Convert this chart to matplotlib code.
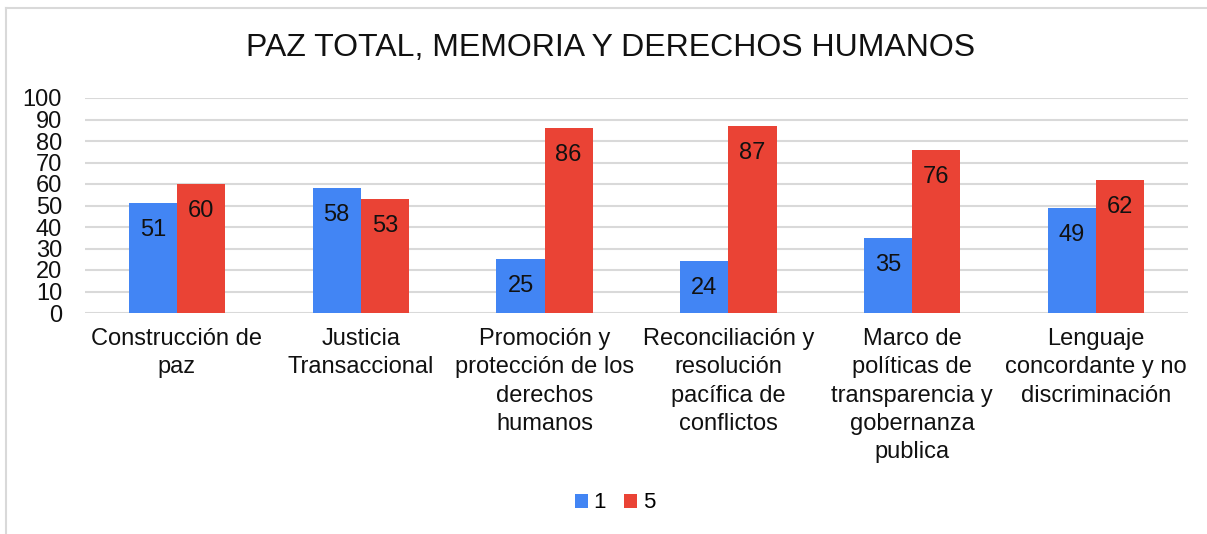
import matplotlib
matplotlib.use("Agg")
import matplotlib.pyplot as plt
import numpy as np

categories = [
    "Construcción de\npaz",
    "Justicia\nTransaccional",
    "Promoción y\nprotección de los\nderechos\nhumanos",
    "Reconciliación y\nresolución\npacífica de\nconflictos",
    "Marco de\npolíticas de\ntransparencia y\ngobernanza\npublica",
    "Lenguaje\nconcordante y no\ndiscriminación",
]
series_names = ["1", "5"]
values_1 = [51, 58, 25, 24, 35, 49]
values_5 = [60, 53, 86, 87, 76, 62]
y_ticks = list(range(0, 101, 10))

plt.rcParams['font.family'] = ['Liberation Sans', 'DejaVu Sans']

W, H = 1207, 534
fig = plt.figure(figsize=(W / 100, H / 100), dpi=100)
fig.patch.set_facecolor("white")

# outer chart border (cropped)
fig.add_artist(plt.Line2D([6 / W, 6 / W], [0, 1 - 8 / H], color="#d9d9d9", lw=1.5, transform=fig.transFigure))
fig.add_artist(plt.Line2D([6 / W, 1], [1 - 8 / H, 1 - 8 / H], color="#d9d9d9", lw=1.5, transform=fig.transFigure))

ax = fig.add_axes([85 / W, 1 - 313 / H, (1188 - 85) / W, (313 - 98) / H])

x = np.arange(len(categories))
bw = 0.262
blue = "#4285F4"
red = "#EA4335"
b1 = ax.bar(x - bw / 2, values_1, bw, color=blue, label=series_names[0], zorder=3)
b2 = ax.bar(x + bw / 2, values_5, bw, color=red, label=series_names[1], zorder=3)

for bars, vals in ((b1, values_1), (b2, values_5)):
    for rect, v in zip(bars, vals):
        ax.annotate(str(v), (rect.get_x() + rect.get_width() / 2, v),
                    xytext=(0, -27), textcoords="offset pixels",
                    ha="center", va="center", fontsize=17, color="#111111", zorder=4)

ax.set_xlim(-0.5, len(categories) - 0.5)
ax.set_ylim(0, 100)
ax.set_yticks(y_ticks)
ax.set_yticklabels([str(t) for t in y_ticks], fontsize=17, color="#111111")
ax.set_xticks(x)
ax.set_xticklabels(categories, fontsize=17, linespacing=1.36, va="top", color="#111111")
ax.tick_params(axis="x", length=0, pad=11)
ax.tick_params(axis="y", length=0, pad=16.5)
for s in ax.spines.values():
    s.set_visible(False)
ax.grid(axis="y", color="#d9d9d9", lw=1.5, zorder=0)
ax.set_axisbelow(True)

fig.text(611 / W, 1 - 48 / H, "PAZ TOTAL, MEMORIA Y DERECHOS HUMANOS", ha="center", va="center",
         fontsize=23, color="#111111")

fig.legend(handles=[b1, b2], labels=series_names, loc="center", bbox_to_anchor=(615 / W, 1 - 503 / H),
           ncol=2, frameon=False, fontsize=16, handlelength=0.6, handleheight=0.6,
           handletextpad=0.25, columnspacing=0.8)

fig.savefig("out.png", dpi=100, facecolor="white")
